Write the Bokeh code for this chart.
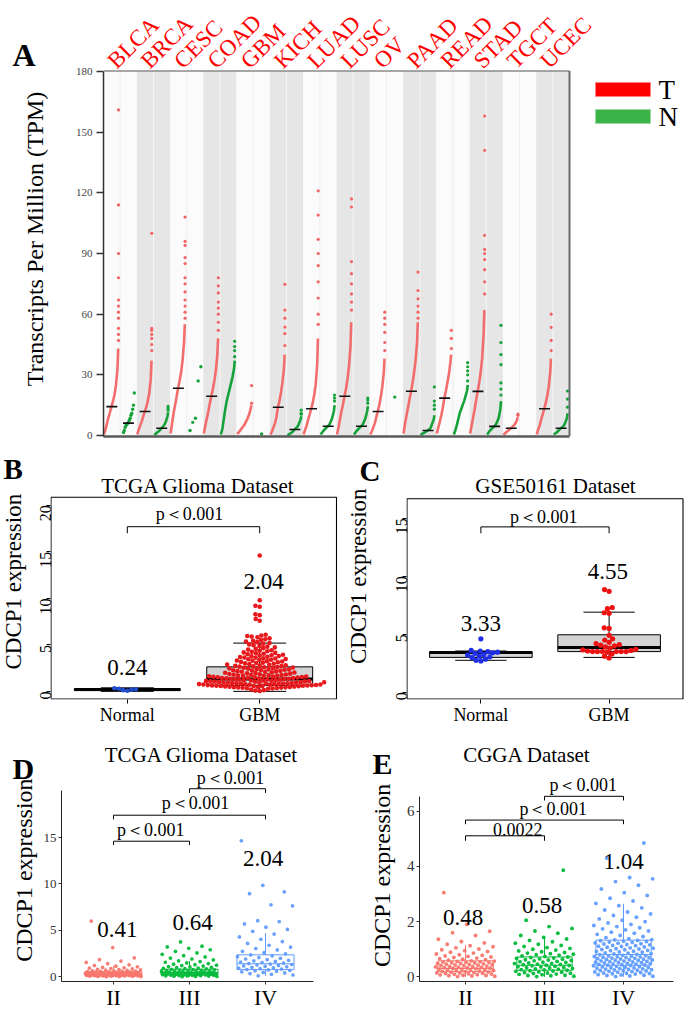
import math
import numpy as np
from bokeh.plotting import figure
from bokeh.layouts import column, row
from bokeh.models import Range1d, FixedTicker
from bokeh.core.properties import value
from bokeh.embed import file_html
from bokeh.resources import INLINE

SERIF = "Liberation Serif"

# ===================== DATA =====================
# ---- Panel A: TPM per cancer type (T = tumour, N = normal) ----
CANCERS = ["BLCA", "BRCA", "CESC", "COAD", "GBM", "KICH", "LUAD", "LUSC",
           "OV", "PAAD", "READ", "STAD", "TGCT", "UCEC"]
T_PCT = [0, 10, 20, 30, 40, 50, 60, 70, 80, 90, 95]          # percentiles of curves
T_CURVE = [
    [0.5, 3, 6, 9, 11.5, 14.3, 17, 20, 25, 33, 43],          # BLCA
    [0.5, 3, 5, 7, 9.5, 11.9, 14, 17, 21, 28, 37],            # BRCA
    [1, 6, 11, 15, 19, 23.4, 27, 31, 37, 46, 55],             # CESC
    [1, 5, 8.5, 12, 16, 19.4, 23, 27, 32, 40, 48],            # COAD
    [0.8, 1.5, 2.5, 3.5, 4.5, 5.5, 7, 8.5, 10.5, 13, 15],     # GBM
    [0.5, 2, 4, 6, 9, 14, 17, 21, 26, 33, 40],                # KICH
    [0.5, 3, 5, 8, 10.5, 13.2, 16, 20, 25, 35, 48],           # LUAD
    [0.5, 4, 8, 12, 15.5, 19.4, 23, 28, 34, 44, 56],          # LUSC
    [0.5, 2, 4, 6, 9, 11.9, 15, 19, 24, 31, 38],              # OV
    [1, 6, 10, 14, 18, 21.9, 26, 31, 37, 46, 56],             # PAAD
    [1, 4, 7, 10, 14, 18.5, 22, 26, 30, 36, 40],              # READ
    [1, 5, 9, 13, 17.5, 21.8, 26, 31, 38, 50, 62],            # STAD
    [0.3, 1, 1.7, 2.3, 3, 3.6, 4.2, 5, 6, 7.5, 9],            # TGCT
    [0.5, 3, 5, 8, 10.5, 13.2, 16, 19.5, 24, 31, 38],         # UCEC
]
T_TAIL = [
    [47, 50, 53, 58, 61, 64, 67, 78, 90, 114, 161],
    [42, 45, 48, 50, 52, 53, 100],
    [58, 61, 64, 67, 71, 75, 78, 85, 88, 94, 96, 108],
    [52, 56, 60, 63, 66, 70.5, 74, 78],
    [16, 24.7],
    [44.5, 50.4, 53.6, 58, 62, 74.8],
    [55, 60, 68, 76, 84, 90, 97, 109, 121],
    [62, 66, 70, 75, 80, 86, 113, 117],
    [42, 46, 51, 55, 58, 61],
    [58, 61, 64, 67.6, 71.7, 80.8],
    [43, 48, 52],
    [70, 76, 82, 87, 90, 92, 99, 141, 158],
    [10, 10.6],
    [42, 47, 53.5, 60],
]
T_MEDIAN = [14.3, 11.9, 23.4, 19.4, None, 14.0, 13.2, 19.4, 11.9, 21.9, 18.5, 21.8, 3.6, 13.2]
N_CURVE = [
    None,
    [0.3, 0.9, 1.5, 2.1, 2.8, 3.6, 4.4, 5.5, 7, 9.5, 11.5],
    None,
    [0.5, 3, 8, 13, 17, 20, 23, 26, 29, 33, 37],
    None,
    [0.2, 0.6, 1, 1.5, 2.2, 3, 3.7, 4.5, 6, 8, 9.5],
    [0.5, 1.5, 2.5, 3.2, 4, 4.6, 5.5, 7, 9, 12, 15],
    [0.5, 1.5, 2.5, 3.2, 4, 4.6, 5.5, 7, 9, 12, 14.5],
    None,
    [0.3, 0.8, 1.2, 1.6, 2, 2.5, 3, 4, 6, 8, 10],
    [0.5, 2.5, 5, 8, 11, 13, 15, 17, 19.5, 22, 25],
    [0.5, 1.5, 2.5, 3.2, 4, 4.5, 5.5, 7, 9, 13, 17],
    None,
    [0.5, 1, 1.5, 2.2, 3, 3.6, 4.2, 5, 6.5, 8.5, 11],
]
N_TAIL = [[], [12.5, 13.5, 14.4], [], [39, 42, 44, 46.6], [], [10.5, 11, 12.5],
          [17, 18.5, 20], [16, 17.5, 18.5], [], [13, 15, 17, 24], [27, 30, 32, 34, 36],
          [20, 23, 26, 35, 40, 46, 54.5], [], [14, 18, 22]]
N_POINTS = [[1.5, 2.5, 4, 5, 5.5, 6, 6.5, 7.5, 8.5, 10, 11, 13, 15, 21], [],
            [2.5, 6.5, 8.5, 27, 34], [], [0.8], [], [], [], [19], [], [], [], [], []]
N_MEDIAN = [6.1, 3.6, None, None, None, 3.0, 4.6, 4.6, None, 2.5, None, 4.5, None, 3.6]
A_TICKS = [0, 30, 60, 90, 120, 150, 180]
LEGEND_A = ["T", "N"]

# ---- Panel B: TCGA Glioma, Normal vs GBM ----
B_LABELS = ["Normal", "GBM"]
B_NORMAL = [0.08, 0.15, 0.20, 0.25, 0.30, 0.35]
B_GBM = [0.05, 0.10, 0.15, 0.22,
         0.30, 0.33, 0.35, 0.38, 0.40, 0.42, 0.44, 0.45, 0.47, 0.48, 0.50, 0.51, 0.53, 0.55, 0.56,
         0.58, 0.59, 0.60, 0.62, 0.63, 0.65, 0.66, 0.68, 0.69, 0.70, 0.72, 0.73, 0.75, 0.76, 0.78,
         0.79, 0.80, 0.82, 0.83, 0.85, 0.86, 0.88, 0.89, 0.90, 0.92, 0.93, 0.95, 0.96, 0.98, 0.99,
         1.01, 1.03, 1.05, 1.07, 1.09, 1.10, 1.12, 1.14, 1.16, 1.18, 1.20, 1.22, 1.24, 1.26, 1.28,
         1.30, 1.32, 1.34, 1.36, 1.38, 1.40, 1.42, 1.44, 1.46, 1.48, 1.50, 1.52, 1.54, 1.56, 1.58,
         1.60, 1.62, 1.64, 1.66, 1.68, 1.70, 1.72, 1.74, 1.76, 1.78,
         1.80, 1.83, 1.86, 1.89, 1.92, 1.95, 1.98, 2.01, 2.04, 2.07, 2.10, 2.13, 2.16, 2.19, 2.22,
         2.25, 2.28, 2.31, 2.34, 2.37, 2.40, 2.43, 2.46, 2.49, 2.52, 2.55, 2.58, 2.61, 2.64, 2.67,
         2.70, 2.73, 2.76, 2.78,
         2.82, 2.86, 2.90, 2.94, 2.98, 3.02, 3.06, 3.10, 3.14, 3.18, 3.22, 3.26, 3.30, 3.34, 3.38,
         3.42, 3.46, 3.50, 3.54, 3.58, 3.62, 3.66, 3.70, 3.74, 3.78, 3.82, 3.86, 3.90, 3.95, 4.00,
         4.05, 4.10, 4.15, 4.20, 4.26, 4.32, 4.38, 4.44, 4.50,
         4.58, 4.66, 4.74, 4.82, 4.90, 4.98, 5.06, 5.14, 5.22, 5.30, 5.38, 5.46, 5.54, 5.62, 5.72,
         5.82, 5.90, 5.96, 6.02, 6.10,
         7.60, 7.80, 8.20, 8.30, 9.10, 9.20, 9.80, 14.60]
B_BOX = [[0.02, 0.10, 0.22, 0.30, 0.40],      # whisker low, Q1, median, Q3, whisker high
         [0.02, 0.65, 1.35, 2.65, 5.20]]
B_MEANS = [0.24, 2.04]
B_TICKS = [0, 5, 10, 15, 20]

# ---- Panel C: GSE50161 ----
C_LABELS = ["Normal", "GBM"]
C_NORMAL = [2.70, 2.75, 2.85, 3.00, 3.05, 3.10, 3.20, 3.25, 3.35, 3.40, 3.45, 3.50, 3.55, 3.60, 4.60]
C_GBM = [2.95, 3.10, 3.30, 3.45, 3.50, 3.50, 3.50, 3.50, 3.50, 3.50, 3.55, 3.60, 3.65, 3.70,
         3.80, 3.90, 4.00, 4.05, 4.10, 4.20, 4.30, 4.50, 4.60, 4.90, 5.50, 5.55, 6.80, 6.85,
         7.20, 7.30, 8.70, 8.85]
C_BOX = [[2.75, 3.00, 3.42, 3.50, 3.55],
         [3.00, 3.50, 3.85, 4.95, 6.90]]
C_MEANS = [3.33, 4.55]
C_TICKS = [0, 5, 10, 15]

# ---- Panel D: TCGA Glioma by WHO grade ----
GRADES = ["II", "III", "IV"]
D_II = [0.02, 0.03, 0.04, 0.05, 0.06, 0.07, 0.08, 0.09, 0.10, 0.11, 0.12, 0.13, 0.14, 0.15, 0.16,
        0.17, 0.18, 0.19, 0.20, 0.21, 0.22, 0.23, 0.24, 0.25, 0.26, 0.27, 0.28, 0.29, 0.30, 0.31,
        0.32, 0.33, 0.34, 0.35, 0.36, 0.37, 0.38, 0.39, 0.40, 0.41, 0.43, 0.44, 0.46, 0.47, 0.49,
        0.50, 0.52, 0.54, 0.56, 0.58, 0.60, 0.62, 0.64, 0.66, 0.69, 0.72, 0.75, 0.78, 0.81, 0.85,
        0.89, 0.93, 0.97, 1.02, 1.08, 1.15, 1.22, 1.30, 1.42, 1.55, 1.70, 1.85, 2.05, 3.15, 6.00]
D_III = [0.02, 0.04, 0.05, 0.07, 0.08, 0.10, 0.11, 0.13, 0.14, 0.16, 0.17, 0.19, 0.20, 0.22, 0.23,
         0.25, 0.26, 0.28, 0.29, 0.31, 0.32, 0.34, 0.35, 0.37, 0.38, 0.40, 0.41, 0.43, 0.44, 0.46,
         0.48, 0.50, 0.52, 0.54, 0.56, 0.58, 0.60, 0.62, 0.64, 0.66, 0.68, 0.70, 0.73, 0.76, 0.79,
         0.82, 0.85, 0.88, 0.91, 0.95, 0.99, 1.03, 1.07, 1.11, 1.16, 1.21, 1.26, 1.31, 1.37, 1.43,
         1.50, 1.57, 1.65, 1.73, 1.82, 1.92, 2.02, 2.15, 2.28, 2.42, 2.58, 2.75, 2.92, 3.08, 3.22,
         3.30, 3.76]
D_IV = [0.12, 0.20, 0.28, 0.35, 0.42, 0.48, 0.54, 0.60, 0.65, 0.70, 0.75, 0.79, 0.84, 0.88, 0.93,
        0.98, 1.03, 1.08, 1.13, 1.18, 1.23, 1.28, 1.33, 1.38, 1.43, 1.48, 1.54, 1.60, 1.66, 1.72,
        1.78, 1.85, 1.92, 2.00, 2.08, 2.17, 2.26, 2.36, 2.48, 2.60, 2.75, 2.90, 3.05, 3.20, 3.40,
        3.60, 3.80, 4.05, 4.30, 4.60, 4.90, 5.10, 5.35, 5.70, 5.95, 6.05, 7.65, 7.75, 8.95, 9.15,
        9.85, 14.65]
D_BOX = [[0.00, 0.10, 0.30, 0.55, 1.20],
         [0.00, 0.22, 0.45, 0.82, 1.70],
         [0.10, 0.78, 1.41, 2.37, 4.70]]
D_MEANS = [0.41, 0.64, 2.04]
D_TESTS = [(1, 2, "p＜0.001"), (1, 3, "p＜0.001"), (2, 3, "p＜0.001")]
D_TICKS = [0, 5, 10, 15]

# ---- Panel E: CGGA by WHO grade ----
E_II = [0.01, 0.02, 0.03, 0.04, 0.05, 0.06, 0.07, 0.08, 0.09, 0.10, 0.11, 0.12, 0.13, 0.14, 0.15,
        0.16, 0.17, 0.18, 0.19, 0.20, 0.21, 0.22, 0.23, 0.24, 0.25, 0.26, 0.27, 0.28, 0.29, 0.30,
        0.31, 0.32, 0.33, 0.34, 0.35, 0.36, 0.37, 0.38, 0.39, 0.40, 0.41, 0.42, 0.43, 0.44, 0.45,
        0.46, 0.47, 0.48, 0.49, 0.50, 0.51, 0.52, 0.53, 0.54, 0.55, 0.56, 0.57, 0.58, 0.60, 0.62,
        0.64, 0.66, 0.68, 0.70, 0.72, 0.74, 0.76, 0.78, 0.80, 0.83, 0.86, 0.89, 0.92, 0.95, 0.98,
        1.01, 1.05, 1.09, 1.13, 1.18, 1.23, 1.28, 1.36, 1.50, 1.60, 1.65, 1.90, 3.05]
E_III = [0.01, 0.02, 0.04, 0.05, 0.06, 0.08, 0.09, 0.10, 0.12, 0.13, 0.14, 0.16, 0.17, 0.18, 0.20,
         0.21, 0.22, 0.24, 0.25, 0.26, 0.28, 0.29, 0.30, 0.32, 0.33, 0.34, 0.36, 0.37, 0.38, 0.40,
         0.41, 0.42, 0.44, 0.45, 0.46, 0.48, 0.49, 0.50, 0.52, 0.53, 0.55, 0.56, 0.58, 0.59, 0.61,
         0.62, 0.64, 0.65, 0.67, 0.68, 0.70, 0.72, 0.74, 0.76, 0.78, 0.80, 0.82, 0.84, 0.86, 0.88,
         0.91, 0.94, 0.97, 1.00, 1.03, 1.06, 1.10, 1.14, 1.18, 1.22, 1.27, 1.32, 1.37, 1.43, 1.50,
         1.58, 1.66, 1.75, 1.82, 2.05, 3.86]
E_IV = [0.01, 0.02, 0.03, 0.05, 0.06, 0.07, 0.08, 0.10, 0.11, 0.12, 0.13, 0.14, 0.16, 0.17, 0.18,
        0.19, 0.20, 0.21, 0.22, 0.23, 0.24, 0.25, 0.26, 0.27, 0.28, 0.29, 0.30, 0.31, 0.32, 0.33,
        0.34, 0.35, 0.36, 0.37, 0.38, 0.40, 0.41, 0.42, 0.43, 0.44, 0.45, 0.46, 0.47, 0.48, 0.49,
        0.50, 0.51, 0.52, 0.53, 0.54, 0.55, 0.56, 0.57, 0.58, 0.59, 0.60, 0.61, 0.62, 0.63, 0.64,
        0.65, 0.66, 0.67, 0.68, 0.69, 0.70, 0.71, 0.72, 0.73, 0.74, 0.75, 0.76, 0.77, 0.78, 0.80,
        0.81, 0.83, 0.84, 0.86, 0.87, 0.89, 0.90, 0.92, 0.93, 0.95, 0.96, 0.98, 0.99, 1.01, 1.02,
        1.04, 1.05, 1.07, 1.08, 1.10, 1.11, 1.13, 1.14, 1.16, 1.17, 1.19, 1.20, 1.22, 1.23, 1.25,
        1.26, 1.28, 1.29, 1.31, 1.32, 1.34, 1.35, 1.38, 1.42, 1.46, 1.50, 1.54, 1.58, 1.62, 1.66,
        1.70, 1.74, 1.78, 1.82, 1.86, 1.90, 1.95, 2.00, 2.05, 2.10, 2.16, 2.22, 2.28, 2.35, 2.42,
        2.50, 2.58, 2.66, 2.75, 2.85, 2.95, 3.05, 3.18, 3.32, 3.45, 3.55, 3.60, 4.30, 4.85]
E_BOX = [[0.00, 0.19, 0.31, 0.58, 1.15],
         [0.00, 0.24, 0.42, 0.72, 1.45],
         [0.00, 0.42, 0.81, 1.33, 2.65]]
E_MEANS = [0.48, 0.58, 1.04]
E_TESTS = [(1, 2, "0.0022"), (1, 3, "p＜0.001"), (2, 3, "p＜0.001")]
E_TICKS = [0, 2, 4, 6]

GRADE_COLORS = ["#F8766D", "#00BA38", "#619CFF"]


# ===================== LAYOUT HELPERS =====================
class Geo:
    """Page-pixel geometry of one figure (origin ox,oy; size w,h) and of its frame."""
    def __init__(self, ox, oy, w, h, fx0, fy0, fx1, fy1, xr, yr):
        self.ox, self.oy, self.w, self.h = ox, oy, w, h
        self.fx0, self.fy0, self.fx1, self.fy1 = fx0, fy0, fx1, fy1
        self.xr, self.yr = xr, yr

    def x(self, px):
        return self.xr[0] + (px - self.fx0) * (self.xr[1] - self.xr[0]) / (self.fx1 - self.fx0)

    def y(self, py):
        return self.yr[0] + (self.fy1 - py) * (self.yr[1] - self.yr[0]) / (self.fy1 - self.fy0)


def lin_range(v0, p0, v1, p1, q0, q1):
    """data values that fall on pixels q0, q1, given v0 at pixel p0 and v1 at pixel p1"""
    k = (v1 - v0) / (p1 - p0)
    return (v0 + (q0 - p0) * k, v0 + (q1 - p0) * k)


def make_fig(g):
    p = figure(width=g.w, height=g.h,
               x_range=Range1d(*g.xr), y_range=Range1d(*g.yr),
               output_backend="svg", toolbar_location=None,
               min_border_left=int(round(g.fx0 - g.ox)),
               min_border_right=int(round(g.ox + g.w - g.fx1)),
               min_border_top=int(round(g.fy0 - g.oy)),
               min_border_bottom=int(round(g.oy + g.h - g.fy1)))
    p.xgrid.visible = False
    p.ygrid.visible = False
    p.outline_line_color = None
    p.background_fill_color = "white"
    p.border_fill_color = "white"
    for ax in (p.xaxis[0], p.yaxis[0]):
        ax.minor_tick_out = 0
        ax.minor_tick_in = 0
        ax.major_tick_in = 0
        ax.major_label_text_font = SERIF
    return p


class TextCanvas:
    """A plain figure used to hold panel letters and rotated axis titles."""
    def __init__(self, ox, oy, w, h):
        self.ox, self.oy, self.w, self.h = ox, oy, w, h
        self.p = figure(width=w, height=h, x_range=Range1d(0, w), y_range=Range1d(0, h),
                        x_axis_type=None, y_axis_type=None, output_backend="svg",
                        toolbar_location=None, min_border=0)
        self.p.min_border_left = self.p.min_border_right = 0
        self.p.min_border_top = self.p.min_border_bottom = 0
        self.p.outline_line_color = None
        self.p.xgrid.visible = False
        self.p.ygrid.visible = False

    def text(self, px, py, txt, size, angle=0.0, align="center", bold=False):
        self.p.text(x=[px - self.ox], y=[self.oy + self.h - py], text=[txt], angle=angle,
                    text_font=value(SERIF), text_font_size=value(size),
                    text_font_style="bold" if bold else "normal",
                    text_align=align, text_baseline="middle", text_color="black")


def glyph_text(p, xs, ys, texts, size, align="center", color="black", angle=0.0,
               baseline="middle"):
    p.text(x=xs, y=ys, text=texts, angle=angle, text_font=value(SERIF),
           text_font_size=value(size), text_align=align, text_baseline=baseline,
           text_color=color)


def swarm_offsets(vals, d_px, ypx):
    order = np.argsort(vals, kind="stable")
    placed = []
    offs = [0.0] * len(vals)
    for i in order:
        yv = vals[i] * ypx
        near = [(px, py) for (px, py) in placed if abs(py - yv) < d_px]
        cands = [0.0]
        for px, py in near:
            dx = math.sqrt(max(d_px ** 2 - (py - yv) ** 2, 0.0))
            cands += [px + dx, px - dx]
        cands.sort(key=lambda c: (abs(c), c))
        for c in cands:
            if all((c - px) ** 2 + (yv - py) ** 2 >= d_px ** 2 - 1e-6 for px, py in near):
                offs[i] = c
                placed.append((c, yv))
                break
    return offs


def spread(n, center, half):
    phi = 0.6180339887498949
    return [center + half * (2.0 * ((k * phi + 0.37) % 1.0) - 1.0) for k in range(n)]


def draw_boxes(p, stats, width, cap, line_colors, fill, median_w, line_w=1.0):
    xs = list(range(1, len(stats) + 1))
    lw = [s[0] for s in stats]; q1 = [s[1] for s in stats]; md = [s[2] for s in stats]
    q3 = [s[3] for s in stats]; uw = [s[4] for s in stats]
    p.segment(xs, q3, xs, uw, line_color=line_colors, line_width=line_w)
    p.segment(xs, lw, xs, q1, line_color=line_colors, line_width=line_w)
    if cap > 0:
        p.segment([x - cap / 2 for x in xs], uw, [x + cap / 2 for x in xs], uw,
                  line_color=line_colors, line_width=line_w)
        p.segment([x - cap / 2 for x in xs], lw, [x + cap / 2 for x in xs], lw,
                  line_color=line_colors, line_width=line_w)
    p.quad(left=[x - width / 2 for x in xs], right=[x + width / 2 for x in xs],
           bottom=q1, top=q3, fill_color=fill if fill else "white",
           fill_alpha=1.0 if fill else 0.0, line_color=line_colors, line_width=line_w)
    p.segment([x - width / 2 for x in xs], md, [x + width / 2 for x in xs], md,
              line_color=line_colors, line_width=median_w)


# ===================== PANEL A =====================
gA = Geo(50, 0, 635, 448, 103, 0, 685, 436,
         lin_range(0, 103, 28, 569, 103, 685), lin_range(0, 435, 180, 71, 436, 0))
pA = make_fig(gA)
TOP_A = 180.2
BOT_A = gA.yr[0]
n_c = len(CANCERS)

band_cols = ["#fbfbfb" if i % 2 == 0 else "#e6e6e6" for i in range(n_c)]
pA.quad(left=[2 * i for i in range(n_c)], right=[2 * i + 2 for i in range(n_c)],
        bottom=BOT_A, top=TOP_A, fill_color=band_cols, line_color=None)
pA.segment([2 * i + 1 for i in range(n_c)], BOT_A, [2 * i + 1 for i in range(n_c)], TOP_A,
           line_color=["#efefef" if i % 2 == 0 else "#f3f3f3" for i in range(n_c)],
           line_width=1.2)

T_COL = "#f26565"
N_COL = "#15a23a"
for i in range(n_c):
    base = 2 * i
    xs = [base + 0.03 + 0.9 * q / 100.0 for q in T_PCT]
    pA.line(xs, T_CURVE[i], line_color=T_COL, line_width=2.6, line_alpha=0.95)
    if T_TAIL[i]:
        pA.scatter([base + 0.9] * len(T_TAIL[i]), T_TAIL[i], size=3.2, color=T_COL,
                   line_color=None)
    nb = base + 1
    if N_CURVE[i] is not None:
        xs = [nb + 0.05 + 0.88 * q / 100.0 for q in T_PCT]
        pA.line(xs, N_CURVE[i], line_color=N_COL, line_width=2.6)
        if N_TAIL[i]:
            pA.scatter([nb + 0.88] * len(N_TAIL[i]), N_TAIL[i], size=3.2, color=N_COL,
                       line_color=None)
    pts = N_POINTS[i]
    if pts:
        n = len(pts)
        xs = [nb + 0.5] if n == 1 else [nb + 0.2 + 0.65 * k / (n - 1) for k in range(n)]
        pA.scatter(xs, sorted(pts), size=3.4, color=N_COL, line_color=None)

mx0, mx1, my = [], [], []
for i in range(n_c):
    if T_MEDIAN[i] is not None:
        mx0.append(2 * i + 0.17); mx1.append(2 * i + 0.83); my.append(T_MEDIAN[i])
    if N_MEDIAN[i] is not None:
        mx0.append(2 * i + 1.17); mx1.append(2 * i + 1.83); my.append(N_MEDIAN[i])
pA.segment(mx0, my, mx1, my, line_color="#111111", line_width=1.6)

# frame borders (top / right)
pA.line([0, 28], [TOP_A, TOP_A], line_color="#8a8a8a", line_width=1.5)
pA.line([28, 28], [BOT_A, TOP_A], line_color="#6a6a6a", line_width=2)

# category labels (rotated, red)
glyph_text(pA, [2 * i + 0.48 for i in range(n_c)], [gA.y(64)] * n_c, CANCERS, "23px",
           align="left", color="#ff0000", angle=math.pi / 4, baseline="alphabetic")

# legend
pA.quad(left=[gA.x(595)] * 2, right=[gA.x(650)] * 2,
        top=[gA.y(82), gA.y(109)], bottom=[gA.y(96), gA.y(123)],
        fill_color=["#ff0000", "#3bb54a"], line_color=["#ff8080", "#9ad8a0"], line_width=0.8)
glyph_text(pA, [gA.x(658)] * 2, [gA.y(89), gA.y(116)], LEGEND_A, "27px", align="left")

pA.yaxis.ticker = FixedTicker(ticks=A_TICKS)
pA.yaxis.bounds = (BOT_A, TOP_A)
pA.yaxis.major_tick_out = 7
pA.yaxis.axis_line_color = "#333333"
pA.yaxis.axis_line_width = 1.5
pA.yaxis.major_tick_line_color = "#333333"
pA.yaxis.major_tick_line_width = 1.3
pA.yaxis.major_label_text_font_size = "11px"
pA.yaxis.major_label_text_color = "#444444"
pA.yaxis.major_label_standoff = 4
pA.xaxis.ticker = FixedTicker(ticks=[])
pA.xaxis.bounds = (0, 28)
pA.xaxis.axis_line_color = "#5a5a5a"
pA.xaxis.axis_line_width = 2.5
pA.xaxis.major_tick_out = 0
pA.xaxis.major_label_text_font_size = "0px"

tA = TextCanvas(0, 0, 50, 448)
tA.text(12, 56, "A", "32px", align="left", bold=True)
tA.text(34, 245, "Transcripts Per Million (TPM)", "24px", angle=math.pi / 2)


# ===================== PANELS B & C =====================
def beeswarm_panel(g, box_px, normal, tumour, box, means, ticks, labels, title, title_xy,
                   bracket, p_txt, mean_pos, dot, normal_col, tumour_col):
    p = make_fig(g)
    ypx = (g.fy1 - g.fy0) / (g.yr[1] - g.yr[0])
    xpx = (g.fx1 - g.fx0) / (g.xr[1] - g.xr[0])
    bx0, by0, bx1, by1 = box_px
    p.quad(left=[g.x(bx0)], right=[g.x(bx1)], top=[g.y(by0)], bottom=[g.y(by1)],
           fill_color=None, line_color="black", line_width=1.1)
    draw_boxes(p, box, 0.8, 0.4, "black", "#d3d3d3", 3.0)
    for k, (vals, col) in enumerate([(normal, normal_col), (tumour, tumour_col)]):
        offs = swarm_offsets(vals, dot * 0.95, ypx)
        p.scatter([k + 1 + o / xpx for o in offs], vals, size=dot, color=col, line_color=None)
    h, lg, tx, ty = bracket
    p.line([1, 1, 2, 2], [lg, h, h, lg], line_color="black", line_width=1)
    glyph_text(p, [tx], [ty], [p_txt], "18px")
    glyph_text(p, [m[0] for m in mean_pos], [m[1] for m in mean_pos],
               ["%.2f" % m for m in means], "23px")
    glyph_text(p, [g.x(title_xy[0])], [g.y(title_xy[1])], [title], "21px")
    p.yaxis.ticker = FixedTicker(ticks=ticks)
    p.yaxis.major_label_orientation = math.pi / 2
    p.yaxis.major_tick_out = 4
    p.yaxis.axis_line_color = None
    p.yaxis.major_label_text_font_size = "16px"
    p.yaxis.major_label_text_color = "black"
    p.yaxis.major_label_standoff = 1
    p.xaxis.ticker = FixedTicker(ticks=[1, 2])
    p.xaxis.major_label_overrides = {1: labels[0], 2: labels[1]}
    p.xaxis.major_tick_out = 4
    p.xaxis.axis_line_color = None
    p.xaxis.major_label_text_font_size = "18px"
    p.xaxis.major_label_text_color = "black"
    p.xaxis.major_label_standoff = 1
    return p


# B: box at x 50..336, y 497..700; 0 at y 692, 20 at y 505
gB = Geo(27, 448, 313, 279, 50, 448, 340, 700,
         lin_range(0.42, 50, 2.58, 336, 50, 340), lin_range(0, 692, 20, 505, 700, 448))
pB = beeswarm_panel(gB, (50.5, 497, 336, 699.5), B_NORMAL, B_GBM, B_BOX, B_MEANS, B_TICKS,
                    B_LABELS, "TCGA Glioma Dataset", (197.5, 485.5),
                    (17.7, 17.0, 1.47, 19.1), "p＜0.001", [(1.0, 2.6), (2.03, 11.8)],
                    4.6, "#1f4fd0", "#e8191c")
tB = TextCanvas(0, 448, 27, 279)
tB.text(3, 471, "B", "29px", align="left", bold=True)
tB.text(13, 596, "CDCP1 expression", "23px", angle=math.pi / 2)

# C: box at x 406..683, y 498..699; 0 at y 691.7, 15 at y 517.7
gC = Geo(383, 448, 302, 279, 406, 448, 685, 699,
         lin_range(0.42, 406, 2.58, 683, 406, 685), lin_range(0, 691.7, 15, 517.7, 699, 448))
pC = beeswarm_panel(gC, (406.5, 498.3, 682.5, 698.5), C_NORMAL, C_GBM, C_BOX, C_MEANS,
                    C_TICKS, C_LABELS, "GSE50161 Dataset", (555, 485.5),
                    (14.25, 13.7, 1.49, 15.1), "p＜0.001", [(1.0, 5.9), (1.99, 10.4)],
                    5.2, "#1f2fe8", "#ee1111")
tC = TextCanvas(340, 448, 43, 279)
tC.text(359, 472.5, "C", "29px", align="left", bold=True)
tC.text(357.5, 590, "CDCP1 expression", "23px", angle=math.pi / 2)


# ===================== PANELS D & E =====================
def grade_panel(g, groups, box, means, ticks, tests, title, title_xy, heights, legs,
                text_pos, mean_pos, ytop, xright, half, box_w, tick_font, dot):
    p = make_fig(g)
    for k, vals in enumerate(groups):
        p.scatter(spread(len(vals), k + 1, half), vals, size=dot,
                  color=GRADE_COLORS[k], line_color=None, alpha=0.95)
    draw_boxes(p, box, box_w, 0.0, GRADE_COLORS, None, 1.2, 1.0)
    for (a, b, txt), h, lg, (tx, ty) in zip(tests, heights, legs, text_pos):
        p.line([a, a, b, b], [lg, h, h, lg], line_color="black", line_width=1)
        glyph_text(p, [tx], [ty], [txt], "18px")
    glyph_text(p, [m[0] for m in mean_pos], [m[1] for m in mean_pos],
               ["%.2f" % m for m in means], "23px")
    glyph_text(p, [g.x(title_xy[0])], [g.y(title_xy[1])], [title], "21px")
    p.yaxis.ticker = FixedTicker(ticks=ticks)
    p.yaxis.bounds = (g.yr[0], ytop)
    p.yaxis.major_tick_out = 3
    p.yaxis.axis_line_color = "#222222"
    p.yaxis.major_tick_line_color = "#333333"
    p.yaxis.major_label_text_font_size = tick_font
    p.yaxis.major_label_text_color = "#333333"
    p.yaxis.major_label_standoff = 2
    p.xaxis.ticker = FixedTicker(ticks=[1, 2, 3])
    p.xaxis.major_label_overrides = {1: GRADES[0], 2: GRADES[1], 3: GRADES[2]}
    p.xaxis.bounds = (g.xr[0], xright)
    p.xaxis.major_tick_out = 3
    p.xaxis.axis_line_color = "#222222"
    p.xaxis.major_tick_line_color = "#333333"
    p.xaxis.major_label_text_font_size = "22px"
    p.xaxis.major_label_text_color = "black"
    p.xaxis.major_label_standoff = 0
    return p


# D: 0 at y 979.3, 9.4 px per unit; grade II at x 113, 76 px per unit
gD = Geo(40, 727, 300, 285, 61, 727, 340, 984,
         lin_range(1, 113, 2, 189, 61, 340), lin_range(0, 979.3, 10, 885.3, 984, 727))
pD = grade_panel(gD, [D_II, D_III, D_IV], D_BOX, D_MEANS, D_TICKS, D_TESTS,
                 "TCGA Glioma Dataset", (201, 755),
                 [14.6, 17.4, 20.25], [14.2, 16.95, 19.8],
                 [(1.49, 15.8), (2.08, 18.7), (2.54, 21.4)],
                 [(1.05, 5.06), (2.04, 5.9), (2.97, 12.7)],
                 20.1, 3.63, 0.37, 0.75, "13px", 3.7)
tD = TextCanvas(0, 727, 40, 285)
tD.text(12, 773.5, "D", "30px", align="left", bold=True)
tD.text(23, 887, "CDCP1 expression", "24px", angle=math.pi / 2)

# E: 0 at y 979.3, 27.93 px per unit; grade II at x 465, 79 px per unit
gE = Geo(396, 727, 289, 285, 419, 727, 685, 984,
         lin_range(1, 465, 2, 544, 419, 685), lin_range(0, 979.3, 2, 923.44, 984, 727))
pE = grade_panel(gE, [E_II, E_III, E_IV], E_BOX, E_MEANS, E_TICKS, E_TESTS,
                 "CGGA Dataset", (526.5, 755),
                 [5.11, 5.68, 6.54], [4.93, 5.53, 6.39],
                 [(1.66, 5.35), (2.11, 6.07), (2.49, 6.96)],
                 [(0.97, 2.15), (1.97, 2.6), (3.0, 4.17)],
                 6.53, 3.63, 0.38, 0.7, "15px", 3.9)
tE = TextCanvas(340, 727, 56, 285)
tE.text(372, 767.5, "E", "30px", align="left", bold=True)
tE.text(381, 893, "CDCP1 expression", "24px", angle=math.pi / 2)

layout = column(row(tA.p, pA, spacing=0),
                row(tB.p, pB, tC.p, pC, spacing=0),
                row(tD.p, pD, tE.p, pE, spacing=0), spacing=0)
open("out.html", "w").write(file_html(layout, INLINE, title="CDCP1 expression"))
